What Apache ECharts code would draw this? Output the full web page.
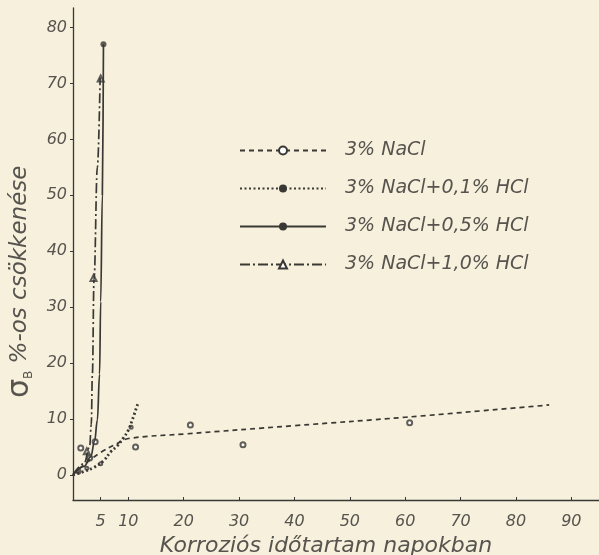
<!DOCTYPE html>
<html><head><meta charset="utf-8">
<script src="https://cdn.jsdelivr.net/npm/echarts@6/dist/echarts.min.js"></script>
<style>html,body{margin:0;padding:0;background:#f6f0dc;}#c{width:599px;height:555px;}</style>
</head><body><div id="c"></div>
<script>
// Series names
const seriesNames = ['3% NaCl', '3% NaCl+0,1% HCl', '3% NaCl+0,5% HCl', '3% NaCl+1,0% HCl'];
// Tick labels
const xTicks = [5, 10, 20, 30, 40, 50, 60, 70, 80, 90];
const yTicks = [0, 10, 20, 30, 40, 50, 60, 70, 80];
// Fitted curves [days, % decrease]
const curveNaCl = [[0, 0], [2, 1.8], [5, 4], [8, 5.6], [10, 6.5], [20, 7.3], [40, 8.8], [60, 10.3], [86, 12.5]];
const curveHCl01 = [[0, 0], [2, 0.6], [3.7, 1.3], [5.5, 2.5], [6.8, 4.1], [8, 5.2], [9.1, 6.6], [10, 8], [10.7, 9.8], [11.8, 13]];
const curveHCl05 = [[0, 0], [2, 1.5], [3.2, 3.2], [3.9, 6], [4.4, 9.8], [4.8, 18], [5.0, 31], [5.3, 50], [5.5, 77]];
const curveHCl10 = [[0, 0], [2, 2], [3.0, 5], [3.3, 9], [3.5, 18], [3.8, 35], [4.4, 55], [4.9, 71]];
// Measured points
const ptsNaCl = [[1.4, 4.8], [4, 5.9], [3, 3], [11.3, 5], [21.2, 8.9], [30.7, 5.4], [60.8, 9.3]];
const ptsHCl01 = [[2.5, 1.2], [5, 2], [10.5, 8.5]];
const ptsHCl05 = [[1, 0.6], [5.5, 77]];
const ptsHCl10 = [[2.5, 4.2], [3.7, 35.2], [5.0, 70.9]];

const ink = '#3a3835';
const txt = '#57544f';
const font = '"DejaVu Sans", "Liberation Sans", sans-serif';

const chart = echarts.init(document.getElementById('c'));
chart.setOption({
  backgroundColor: '#f6f0dc',
  animation: false,
  grid: {left: 73, right: 0, top: 8, bottom: 55, outerBoundsMode: 'none', containLabel: false},
  xAxis: {
    type: 'value', min: 0, max: 95,
    name: 'Korroziós időtartam napokban', nameLocation: 'middle', nameGap: 29,
    nameTextStyle: {fontSize: 22, fontStyle: 'italic', color: txt, fontFamily: font, padding: [0, 20, 0, 0]},
    axisLine: {onZero: false, lineStyle: {color: ink, width: 1.3}},
    axisTick: {show: true, customValues: xTicks, length: 3, inside: true, lineStyle: {color: ink}},
    axisLabel: {customValues: xTicks, fontSize: 16, fontStyle: 'italic', color: txt, fontFamily: font, margin: 14},
    splitLine: {show: false}
  },
  yAxis: {
    type: 'value', min: -4.5, max: 83.5,
    axisLine: {show: true, onZero: false, lineStyle: {color: ink, width: 1.3}},
    axisTick: {show: true, customValues: yTicks, length: 3, lineStyle: {color: ink}},
    axisLabel: {customValues: yTicks, fontSize: 16, fontStyle: 'italic', color: txt, fontFamily: font, margin: 6},
    splitLine: {show: false}
  },
  legend: {
    orient: 'vertical', left: 234, top: 136, itemWidth: 86, itemHeight: 10, itemGap: 19,
    data: seriesNames,
    textStyle: {fontSize: 19, fontStyle: 'italic', color: txt, fontFamily: font, padding: [0, 0, 0, 14]}
  },
  graphic: [{
    type: 'text', rotation: Math.PI / 2,
    style: {
      text: '{s|σ}{b|B} %-os csökkenése',
      fill: txt, font: 'italic 23px ' + font,
      rich: {s: {fontSize: 30, fill: txt, fontFamily: font}, b: {fontSize: 12, fill: txt, verticalAlign: 'bottom', fontFamily: font}}
    },
    x: 5, y: 398
  }],
  series: [
    {name: seriesNames[0], type: 'line', data: curveNaCl, smooth: 0.4, showSymbol: false, symbol: 'emptyCircle', symbolSize: 5,
     lineStyle: {color: ink, width: 1.7, type: [5, 4]}, itemStyle: {color: ink}},
    {name: seriesNames[1], type: 'line', data: curveHCl01, smooth: 0.4, showSymbol: false, symbol: 'circle', symbolSize: 3,
     lineStyle: {color: ink, width: 2.8, type: [2, 2.5]}, itemStyle: {color: ink}},
    {name: seriesNames[2], type: 'line', data: curveHCl05, smooth: 0.4, smoothMonotone: 'x', showSymbol: false, symbol: 'circle', symbolSize: 6,
     lineStyle: {color: ink, width: 1.7}, itemStyle: {color: ink}},
    {name: seriesNames[3], type: 'line', data: curveHCl10, smooth: 0.4, smoothMonotone: 'x', showSymbol: false, symbol: 'emptyTriangle', symbolSize: 6,
     lineStyle: {color: ink, width: 1.7, type: [10, 3, 2, 3]}, itemStyle: {color: ink}},
    {name: 'p0', type: 'scatter', data: ptsNaCl, symbol: 'emptyCircle', symbolSize: 5, itemStyle: {color: ink, borderColor: '#6a6660'}},
    {name: 'p1', type: 'scatter', data: ptsHCl01, symbol: 'emptyCircle', symbolSize: 3, itemStyle: {color: ink, borderColor: '#6a6660'}},
    {name: 'p2', type: 'scatter', data: ptsHCl05, symbol: 'circle', symbolSize: 6, itemStyle: {color: ink}},
    {name: 'p3', type: 'scatter', data: ptsHCl10, symbol: 'emptyTriangle', symbolSize: 6, itemStyle: {color: ink, borderColor: '#6a6660'}}
  ]
});
</script></body></html>
